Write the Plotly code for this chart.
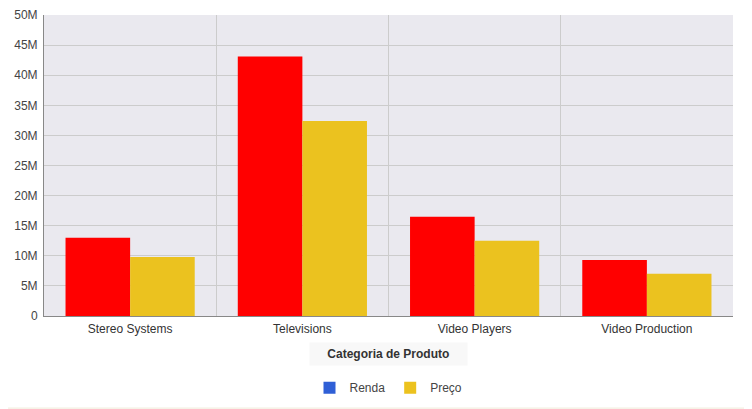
import plotly.graph_objects as go

categorias = ['Stereo Systems', 'Televisions', 'Video Players', 'Video Production']
renda = [13.0e6, 43.1e6, 16.5e6, 9.3e6]
preco = [9.8e6, 32.4e6, 12.5e6, 7.0e6]
y_ticks = [0, 5e6, 10e6, 15e6, 20e6, 25e6, 30e6, 35e6, 40e6, 45e6, 50e6]
y_labels = ['0', '5M', '10M', '15M', '20M', '25M', '30M', '35M', '40M', '45M', '50M']

fig = go.Figure()

# barras (sem legenda propria)
fig.add_trace(go.Bar(x=categorias, y=renda, name='Renda', marker_color='#ff0000',
                     marker_line_width=0, showlegend=False))
fig.add_trace(go.Bar(x=categorias, y=preco, name='Preço', marker_color='#ebc21f',
                     marker_line_width=0, showlegend=False))

# entradas da legenda com as cores originais
fig.add_trace(go.Scatter(x=[None], y=[None], mode='markers', name='Renda',
                         marker=dict(symbol='square', size=13, color='#2f5fd6')))
fig.add_trace(go.Scatter(x=[None], y=[None], mode='markers', name='Preço',
                         marker=dict(symbol='square', size=13, color='#ecc21e')))

# a pagina tem 8px de margem no body, por isso a figura e um pouco menor
fig.update_layout(
    width=744, height=401,
    margin=dict(l=36, r=19, t=7, b=93, autoexpand=False),
    paper_bgcolor='white',
    plot_bgcolor='#eae9ef',
    font=dict(family='Liberation Sans, Arial', size=12, color='#333333'),
    barmode='group',
    bargap=0.25,
    bargroupgap=0,
    legend=dict(orientation='h', x=0.5, xanchor='center', y=-0.19, yanchor='top',
                font=dict(size=12, color='#444444'), itemsizing='constant'),
)

fig.update_xaxes(tickson='boundaries', showgrid=True, gridcolor='#cccccc', gridwidth=1,
                 showline=True, linecolor='#888888', linewidth=1, ticks='', automargin=False,
                 ticklabelstandoff=2, tickfont=dict(size=12, color='#333333'))
fig.update_yaxes(range=[0, 50e6], tickvals=y_ticks, ticktext=y_labels,
                 showgrid=True, gridcolor='#cccccc', gridwidth=1, automargin=False,
                 showline=True, linecolor='#888888', linewidth=1, ticks='',
                 ticklabelstandoff=3, zeroline=False, tickfont=dict(size=12, color='#444444'))

fig.add_annotation(text='&nbsp;&nbsp;&nbsp;&nbsp;<b>Categoria de Produto</b>&nbsp;&nbsp;&nbsp;&nbsp;',
                   xref='paper', yref='paper',
                   x=0.5, y=-0.125, xanchor='center', yanchor='middle', showarrow=False,
                   bgcolor='#f8f8f8', borderpad=4, font=dict(size=12, color='#333333'))

# linha fina no fundo da pagina
fig.add_shape(type='line', xref='paper', yref='paper', x0=-0.07, x1=1.06, y0=-0.306, y1=-0.306,
              line=dict(color='#f0ead8', width=1))

fig.write_html("out.html")
